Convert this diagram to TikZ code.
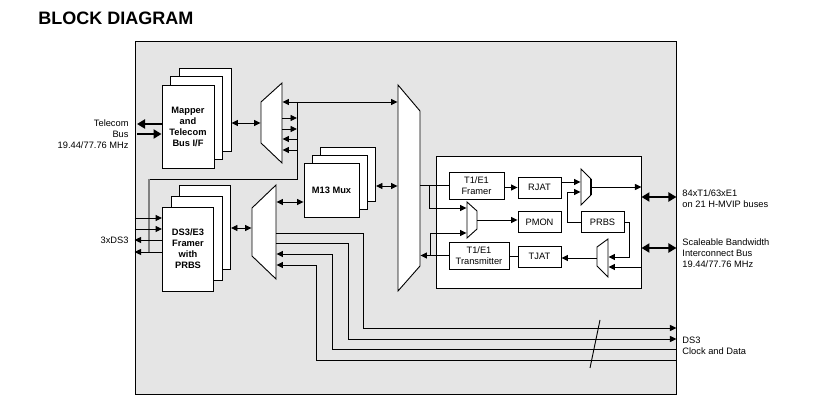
\documentclass[tikz,border=0pt]{standalone}
\usepackage{fontspec}
\setmainfont{Liberation Sans}
\usetikzlibrary{arrows.meta}
\definecolor{chipgray}{RGB}{229,229,229}

\begin{document}
\begin{tikzpicture}
  [x=1pt,y=-1pt,line width=0.9pt,>={Triangle[length=6.5pt,width=6pt]},
   every node/.style={inner sep=0pt,font=\fontsize{9.3}{11}\selectfont},
   CardStyle/.style={rectangle,draw,fill=white,align=center},
   BoldCard/.style={CardStyle,font=\fontsize{9.3}{11}\selectfont\bfseries},
   PortStyle/.style={rectangle,draw=none,fill=none},
   MuxStyle/.style={draw,fill=white}]
 \tikzset{EdgeStyle/.style={->},
   FatEdge/.style={>={Triangle[length=8pt,width=9pt]},->,line width=2.2pt},
   BusStyle/.style={>={Triangle[length=8pt,width=9pt]},<->,line width=2.2pt}}

 \useasboundingbox (0,0) rectangle (818,419);
 \node[anchor=base west,font=\fontsize{18}{20}\selectfont\bfseries] (title) at (38,25) {BLOCK DIAGRAM};
 \node[draw,fill=chipgray,minimum width=541,minimum height=353] (chip) at (405.5,217.5) {};

 % mapper, framer and M13 cards
 \node[CardStyle,minimum width=52,minimum height=83] (map3) at (205,109.5) {};
 \node[CardStyle,minimum width=52,minimum height=83] (map2) at (196.5,118) {};
 \node[BoldCard,minimum width=52,minimum height=83] (map1) at (188,126.5) {Mapper\\and\\Telecom\\Bus I/F};
 \node[CardStyle,minimum width=51,minimum height=84] (dsf3) at (205,227.5) {};
 \node[CardStyle,minimum width=51,minimum height=84] (dsf2) at (196.5,238) {};
 \node[BoldCard,minimum width=51,minimum height=84] (dsf1) at (188,249) {DS3/E3\\Framer\\with\\PRBS};
 \node[CardStyle,minimum width=55,minimum height=54] (m3) at (348,174.5) {};
 \node[CardStyle,minimum width=55,minimum height=54] (m2) at (340,182) {};
 \node[BoldCard,minimum width=55,minimum height=54] (m1) at (331.5,190) {M13 Mux};

 % muxes
 \draw[MuxStyle] (261,102) -- (282,83) -- (282,163) -- (261,143) -- cycle;
 \node[PortStyle,minimum width=21,minimum height=80] (umux) at (271.5,123) {};
 \draw[MuxStyle] (252,208) -- (276,185) -- (276,279) -- (252,256) -- cycle;
 \node[PortStyle,minimum width=24,minimum height=94] (lmux) at (264,232) {};
 \draw[MuxStyle] (398,85) -- (420,111) -- (420,266) -- (398,291) -- cycle;
 \node[PortStyle,minimum width=22,minimum height=206] (bmux) at (409,188) {};

 % T1/E1 block
 \node[draw,fill=white,minimum width=205,minimum height=132] (t1box) at (538.5,222) {};
 \node[CardStyle,minimum width=55,minimum height=27] (fr) at (476.5,185.5) {T1/E1\\Framer};
 \node[CardStyle,minimum width=43,minimum height=21] (rjat) at (539.5,187.5) {RJAT};
 \node[CardStyle,minimum width=43,minimum height=21] (pmon) at (539.5,222) {PMON};
 \node[CardStyle,minimum width=43,minimum height=21] (prbs) at (602.5,222) {PRBS};
 \node[CardStyle,minimum width=60,minimum height=27] (tx) at (479,255.5) {T1/E1\\Transmitter};
 \node[CardStyle,minimum width=43,minimum height=21] (tjat) at (539.5,256.5) {TJAT};
 \draw[MuxStyle] (581,169) -- (591,179) -- (591,195) -- (581,205) -- cycle;
 \draw[line width=2.4pt] (591,179) -- (591,195);
 \node[PortStyle,minimum width=10,minimum height=36] (rmux) at (586,187) {};
 \draw[MuxStyle] (467,202) -- (477,211) -- (477,229) -- (467,238) -- cycle;
 \node[PortStyle,minimum width=10,minimum height=36] (pmux) at (472,220) {};
 \draw[MuxStyle] (597,247) -- (608,239) -- (608,277) -- (597,266) -- cycle;
 \node[PortStyle,minimum width=11,minimum height=38] (tmux) at (602.5,258) {};

 % labels
 \node[anchor=east,align=right] (tlab) at (129,134) {Telecom\\Bus\\19.44/77.76 MHz};
 \node[anchor=east] (dslab) at (129,240) {3xDS3};
 \node[anchor=west,align=left] (hlab) at (682,198.5) {84xT1/63xE1\\on 21 H-MVIP buses};
 \node[anchor=west,align=left] (slab) at (682,253) {Scaleable Bandwidth\\Interconnect Bus\\19.44/77.76 MHz};
 \node[anchor=west,align=left,font=\fontsize{9.3}{10.5}\selectfont] (clab) at (682,346) {DS3\\Clock and Data};

 \coordinate (tbo) at (137,124);
 \coordinate (tbi) at (137,134);
 \coordinate (ubus) at (297,102);
 \coordinate (dsbus) at (149,179);
 \coordinate (jr) at (429,185.5);
 \coordinate (jt) at (430,255.5);
 \coordinate (lp) at (567,192);

 \draw[FatEdge] (map1.west |- tbo) -- (tbo);
 \draw[FatEdge] (tbi) -- (map1.west |- tbi);
 \draw[<->] (map3.east |- umux.west) -- (umux.west);
 \draw[<->] (umux.east |- ubus) -- (bmux.west |- ubus);
 \draw (ubus) |- (dsbus);
 \draw[gray,line width=1.6pt] (dsbus) -- (dsbus |- 0,252);
 \foreach \y/\d in {118/->,129/->,139/<-,150/<-}
    \draw[\d] (umux.east |- 0,\y) -- (ubus |- 0,\y);
 \foreach \y/\d in {218/->,229/->,240/<-,252/<-}
    \draw[\d] (chip.west |- 0,\y) -- (dsf1.west |- 0,\y);
 \draw[<->] (dsf3.east |- 0,228) -- (lmux.west |- 0,228);
 \draw[<->] (lmux.east |- 0,202) -- (m1.west |- 0,202);
 \draw[<->] (m3.east |- 0,186) -- (bmux.west |- 0,186);

 \draw (bmux.east |- fr.west) -- (fr.west);
 \draw[->] (jr) |- (pmux.west |- 0,208);
 \draw[->] (tx.west) -- (bmux.east |- tx.west);
 \draw[->] (jt) |- (pmux.west |- 0,233);
 \draw[->] (fr.east |- rjat.west) -- (rjat.west);
 \draw[->] (rjat.east |- 0,182) -- (rmux.west |- 0,182);
 \draw[->] (prbs.west) -| (lp) -- (rmux.west |- lp);
 \draw[->] (rmux.east) -- (rmux.east -| t1box.east);
 \draw[->] (pmux.east) -- (pmux.east -| pmon.west);
 \draw[->] (prbs.east) -- ++(5,0) |- (tmux.east |- 0,257);
 \draw[->] (t1box.east |- 0,267) -- (tmux.east |- 0,267);
 \draw[->] (tmux.west) -- (tmux.west -| tjat.east);
 \draw (tjat.west) -- (tjat.west -| tx.east);
 \draw[BusStyle] (t1box.east |- 0,197) -- (chip.east |- 0,197);
 \draw[BusStyle] (t1box.east |- 0,248) -- (chip.east |- 0,248);

 \foreach \y/\x/\z/\d in {233/363/328/->,243/348/339/->,254/332/349/<-,265/316/360/<-}
    \draw[\d] (lmux.east |- 0,\y) -| (\x,\z) -- (chip.east |- 0,\z);
 \draw (600,320) -- (590,368);

\end{tikzpicture}
\end{document}
